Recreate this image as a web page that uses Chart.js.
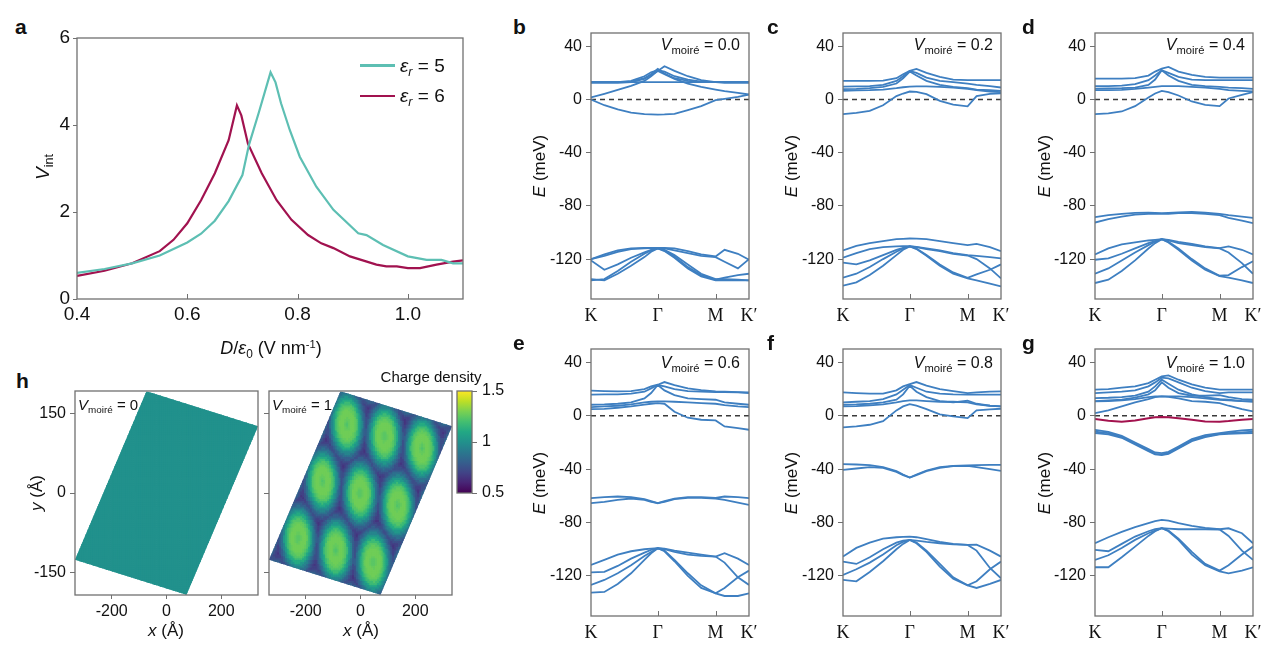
<!DOCTYPE html>
<html><head><meta charset="utf-8">
<script src="https://cdn.jsdelivr.net/npm/chart.js@4.4.1/dist/chart.umd.min.js"></script>
<style>
body{margin:0;width:1269px;height:647px;background:#fff;position:relative;overflow:hidden;font-family:"Liberation Sans",Arial,sans-serif;color:#111}
canvas{position:absolute;z-index:1}
.t{position:absolute;white-space:nowrap;line-height:1;z-index:2}
.lab{font-weight:bold;font-size:21px}
.rot{transform:translate(-50%,-50%) rotate(-90deg)}
.ctr{transform:translate(-50%,-50%)}
sub{font-size:0.66em;vertical-align:-0.32em;line-height:0}
sup{font-size:0.62em;vertical-align:0.55em;line-height:0}
.vm{font-size:16px}
.vm sub{font-size:0.7em}
.leg{position:absolute;height:2.5px;z-index:2}
</style></head>
<body>
<div class="t lab" style="left:15px;top:15.5px">a</div>
<div class="t lab" style="left:513px;top:15.5px">b</div>
<div class="t lab" style="left:767px;top:15.5px">c</div>
<div class="t lab" style="left:1022px;top:15.5px">d</div>
<div class="t lab" style="left:513px;top:332px">e</div>
<div class="t lab" style="left:767px;top:332px">f</div>
<div class="t lab" style="left:1022px;top:332px">g</div>
<div class="t lab" style="left:16px;top:370px">h</div>

<div class="t rot" style="left:42px;top:167px;font-size:19px"><i>V</i><sub>int</sub></div>
<div class="t ctr" style="left:271px;top:348px;font-size:18px"><i>D</i>/<i>ε</i><sub>0</sub> (V nm<sup>-1</sup>)</div>
<div class="leg" style="left:360px;top:64px;width:35px;background:#5dbfb3"></div>
<div class="leg" style="left:360px;top:94.5px;width:35px;background:#a1124f"></div>
<div class="t" style="left:400px;top:55.5px;font-size:19px"><i>ε<sub>r</sub></i> = 5</div>
<div class="t" style="left:400px;top:85.5px;font-size:19px"><i>ε<sub>r</sub></i> = 6</div>

<div class="t rot" style="left:539px;top:166px;font-size:17px"><i>E</i> (meV)</div>
<div class="t rot" style="left:791px;top:166px;font-size:17px"><i>E</i> (meV)</div>
<div class="t rot" style="left:1044px;top:166px;font-size:17px"><i>E</i> (meV)</div>
<div class="t rot" style="left:539px;top:483px;font-size:17px"><i>E</i> (meV)</div>
<div class="t rot" style="left:791px;top:483px;font-size:17px"><i>E</i> (meV)</div>
<div class="t rot" style="left:1044px;top:483px;font-size:17px"><i>E</i> (meV)</div>

<div class="t vm" style="right:529px;top:37px"><i>V</i><sub>moiré</sub> = 0.0</div>
<div class="t vm" style="right:276px;top:37px"><i>V</i><sub>moiré</sub> = 0.2</div>
<div class="t vm" style="right:24px;top:37px"><i>V</i><sub>moiré</sub> = 0.4</div>
<div class="t vm" style="right:529px;top:354.5px"><i>V</i><sub>moiré</sub> = 0.6</div>
<div class="t vm" style="right:276px;top:354.5px"><i>V</i><sub>moiré</sub> = 0.8</div>
<div class="t vm" style="right:24px;top:354.5px"><i>V</i><sub>moiré</sub> = 1.0</div>

<div class="t rot" style="left:36px;top:493px;font-size:17px"><i>y</i> (Å)</div>
<div class="t ctr" style="left:166px;top:630px;font-size:17px"><i>x</i> (Å)</div>
<div class="t ctr" style="left:361px;top:630px;font-size:17px"><i>x</i> (Å)</div>
<div class="t" style="left:78px;top:397px;font-size:15px"><i>V</i><sub>moiré</sub> = 0</div>
<div class="t" style="left:272px;top:397px;font-size:15px"><i>V</i><sub>moiré</sub> = 1</div>
<div class="t ctr" style="left:431px;top:376px;font-size:15px">Charge density</div>

<script>
// ---------------- DATA ----------------
// panel a
const dField5 = [0.40,0.45,0.50,0.55,0.60,0.625,0.65,0.675,0.70,0.712,0.73,0.751,0.76,0.77,0.786,0.804,0.834,0.865,0.91,0.925,0.955,1.0,1.034,1.061,1.082,1.1];
const vInt5   = [0.6,0.69,0.82,1.0,1.3,1.5,1.8,2.25,2.85,3.55,4.3,5.21,4.98,4.5,3.88,3.27,2.58,2.05,1.51,1.47,1.24,0.98,0.90,0.90,0.82,0.82];
const dField6 = [0.40,0.45,0.50,0.55,0.575,0.60,0.625,0.65,0.675,0.69,0.698,0.71,0.735,0.762,0.789,0.819,0.843,0.865,0.895,0.943,0.961,0.98,1.0,1.022,1.052,1.082,1.1];
const vInt6   = [0.53,0.65,0.82,1.1,1.36,1.74,2.27,2.89,3.65,4.45,4.22,3.57,2.89,2.27,1.82,1.47,1.28,1.17,0.98,0.79,0.75,0.75,0.71,0.71,0.79,0.86,0.89];
const aTicksX = [0.4,0.6,0.8,1.0];
const aTicksY = [0,2,4,6];

// band structures: energy (meV) along K-Γ-M-K'
const kPath = [0, 0.2, 0.4, 0.6, 0.8, 0.9, 1.0, 1.1, 1.25, 1.45, 1.65, 1.866, 2.0, 2.2, 2.366];
const kTickValues = [0, 1, 1.866, 2.366];
const kTickLabels = ['K', 'Γ', 'M', 'K\u2032'];
const eTicks = [-120, -80, -40, 0, 40];

const bandsV00 = [
 [13,13,13,13,13,13,13,13,13,13,13,13,13,13,13],
 [13,13,13,13.5,16,19,23,19.5,16,14,13.2,13,13,13,13],
 [13,13,13,14,17.5,20.5,22,21,17.5,15,13.5,13,13,13,13],
 [12.5,12.5,12.5,13,15.5,18.5,21.5,25,21.5,17.5,14.5,13,12.5,12.5,12.5],
 [1.5,4.3,7.2,10.2,14,17.5,21.5,19,15.5,12,9.5,7.5,6.3,5,3.75],
 [0,-4.3,-7.5,-9.8,-11,-11.2,-11.3,-11.2,-10.8,-8,-5,-0.5,0.5,2,3.75],
 [-120,-116.5,-113.5,-112,-111.5,-111.5,-111.5,-111.5,-112,-114,-116.5,-118,-113,-116,-120.5],
 [-120,-117.5,-114.5,-112.5,-112,-111.8,-111.7,-112,-113.5,-115.5,-117.5,-118.5,-122,-127,-120],
 [-121,-128,-124,-119,-115,-113,-112,-113,-117,-124,-131,-135,-135,-135.5,-136],
 [-135,-136,-131,-125,-118.5,-114.5,-112,-113.5,-118,-126,-132,-135.5,-134,-132,-131],
 [-136,-135,-129,-122,-116,-113.5,-112,-114,-119,-127,-133,-136,-136,-136,-136]
];
const bandsV02 = [
 [14,14,14,14.2,16,19,21.5,23,20,17,15,14.5,14.5,14.5,14.5],
 [9.75,9.8,10,11,14,17.5,21.5,20,16.5,14,13,12,11,10,9],
 [7.75,8,8.5,9.5,12,16,21,18,14,11,9.5,8.5,7.5,7,6.5],
 [6.5,6.8,7,7.5,8.5,9.2,9.7,9.8,9.8,9.5,9,8,7,6,5.5],
 [-11,-10,-8.5,-4.3,2.6,4.5,6,5.7,4,-1,-3.8,-5.2,2.5,4.2,4.7],
 [-113.5,-110,-108,-106.5,-105,-104.8,-104.5,-104.6,-105,-106.5,-108,-109.5,-108.5,-111,-114],
 [-119,-115.5,-112.5,-111,-110.5,-110.3,-110.2,-110.8,-112,-113.5,-115.5,-117,-117.5,-118.5,-119.5],
 [-122.7,-124,-121,-117,-113,-111.5,-110.5,-111,-112.5,-114,-116,-117.3,-120,-127,-134.5],
 [-134,-131,-126,-120,-114.5,-112,-110.5,-112,-117,-124,-130,-134,-131.5,-128,-124],
 [-140,-137.5,-132,-125,-117,-113,-110.5,-112.5,-117.5,-125,-131,-134.5,-136,-138.5,-140.5]
];
const bandsV04 = [
 [15.75,15.75,15.75,16,18,21,23.25,24.5,21,18.5,17,16.5,16.5,16.5,16.5],
 [10,10,10.5,11.5,14.5,18,22,20,17,15,14.5,14.5,14.5,14.5,14.5],
 [8.25,8.3,8.5,9,11,15,22,18,14,11,10,9.5,9,8.5,8],
 [7,7,7.3,8,9,9.5,10,10,10,9.5,9,8,7,6.5,6],
 [-11,-10.5,-9,-5,1.5,4.5,6.5,5.5,3,-1.5,-4,-5,0.75,3.5,5.5],
 [-88.5,-87,-86,-85.3,-85,-85.3,-85.5,-85.2,-84.8,-84.6,-85,-86,-87,-88,-89],
 [-92.5,-90,-88,-86.5,-86,-86,-86,-86,-85.5,-85.5,-86,-87,-89,-91,-93],
 [-116.5,-112,-109,-107.5,-106,-105.5,-105,-105.5,-107,-108.5,-110.5,-111.7,-110.5,-113,-116.5],
 [-120.5,-119.5,-116,-112,-108,-106.5,-105,-106,-108,-109.5,-111,-112,-115,-123,-131],
 [-131,-127,-121,-115,-109.5,-107,-105,-107,-112,-120,-127,-132.5,-132,-126,-121.7],
 [-138,-135.5,-129,-121,-112,-108,-105,-107.5,-113,-121,-128,-132.8,-134,-136,-138]
];
const bandsV06 = [
 [18.75,18.5,18.3,18.5,20,22,23.25,25.25,23,20.5,19.2,18.3,18,17.7,17.5],
 [15.75,16,16,16.5,18,20.5,23,22,20,18.5,18,17.8,17.7,17.5,17],
 [8.25,8.5,9,10,13,17,23,19,15.5,13,12.5,12,10,9,8.25],
 [6.5,7,7.5,8.5,10,10.5,10.8,10.8,10.5,10,9.5,9,8,7,6.5],
 [5,5.2,6,7,8.3,9,9.5,9,3,-1.5,-3,-3.5,-8,-9.3,-10.5],
 [-61.75,-61,-60.5,-61,-62.5,-64,-65.5,-64,-62,-61,-61,-61.5,-60.5,-61,-61.75],
 [-65.5,-64.5,-63,-62,-63,-64.5,-65.5,-64.5,-62.5,-61.5,-61.5,-62,-63,-65,-66.75],
 [-111.75,-108,-104,-101.5,-100,-99.5,-99.25,-99.5,-101,-102.5,-104,-105.5,-103,-107,-111.75],
 [-117.25,-117,-112.5,-107,-102.5,-100.5,-99.25,-100,-102,-104,-105,-105.5,-110,-121,-126.75],
 [-126.75,-123,-118,-112,-105,-102,-99.25,-101,-108,-118,-127,-133,-135,-135,-133],
 [-132.5,-132,-126,-118,-108,-103,-99.25,-101.5,-109,-120,-129,-133,-129,-121,-116]
];
const bandsV08 = [
 [17.5,17,16.5,16.5,19,22,23.75,25.25,22.5,20,18.5,17,17.5,18,18.25],
 [10,10.5,11,12.5,16,19.5,23,21,18,16.5,16,15.8,15.8,15.8,15.75],
 [8.25,8.5,9,10,12,16,22.5,18,14,11,10,11.25,9,7.5,7],
 [7,7.2,7.8,8.5,10,11,11.5,11.5,11,10.5,10.5,10,8.5,7.5,7],
 [-8.75,-8,-6.75,-4,4,7,8.75,7.5,5,1,-0.5,-1.75,4,4.8,5.25],
 [-36.25,-36.5,-37,-38.5,-41.5,-44,-46.25,-44,-41,-38.5,-37.5,-37.25,-37,-36.8,-36.75],
 [-40.5,-39.5,-38.5,-39,-42,-44.5,-46.25,-44.5,-41.5,-39,-37.8,-37.5,-38.5,-40,-41.25],
 [-105.5,-99,-95,-92,-91,-90.7,-90.5,-91,-92.5,-94.5,-96,-96.75,-96.5,-101,-105.5],
 [-109.25,-111,-106,-100,-95,-93.5,-93,-93.5,-94.5,-95.5,-96.3,-96.75,-101,-114,-121.75],
 [-119.25,-115,-110,-104,-97,-94.5,-93,-95,-101,-111,-121,-127,-124,-115,-109.25],
 [-123,-124,-117,-109,-100,-96,-93,-95.5,-102,-113,-122,-127,-129,-126,-123]
];
const bandsV10 = [
 [19.5,20,21,22,24.5,27,29.5,30.25,27,23.5,21,19.5,19.5,19.5,19.5],
 [17,17.5,18,19,22,25,28.5,28,25,21,18.5,17,17.5,17.5,17.5],
 [13.25,13.5,14,15,18,22,27,24,19.5,16,14,12.5,12,11,10.5],
 [10.75,11,11.5,12.5,14,14.5,14.5,14.5,14.5,14,13,12,11.5,11,11],
 [11,11.5,12,13.5,16,19,25,21,17,15,15,15.5,14,12.5,12],
 [2,4,7,10,12.5,14,14.5,14.2,13,11,10.5,9.5,7.5,5,3.25],
 [-10.5,-12,-15,-20,-25,-27.5,-28,-27,-23,-17.5,-14.5,-13,-12,-11,-10.5],
 [-12,-13,-16,-21,-26,-28.5,-29,-28,-24,-18.5,-15.5,-13.5,-13,-12.5,-12],
 [-13,-14,-16.5,-21.5,-26.5,-29,-29.5,-28.5,-24.5,-19,-16,-14,-13.5,-13.2,-13],
 [-95.5,-91,-87,-83.5,-80.5,-79,-78,-78.5,-80.5,-82.5,-84,-85,-84.3,-88,-95.5],
 [-100.5,-101.5,-96,-90.5,-86.5,-85,-84.25,-84.5,-85,-85,-85,-85.2,-90,-101,-108],
 [-108,-104.5,-99,-93,-88,-86,-84.25,-86,-92,-102,-111,-116,-112,-104,-98],
 [-113.5,-113.5,-106,-98,-90,-86.5,-84.25,-86.5,-93,-104,-112,-116.5,-118,-116,-113.5]
];
const flatBandV10 = [-2.5,-3.8,-4.5,-3.5,-1.8,-1.2,-1,-1.2,-1.8,-3,-4.3,-4.5,-4,-3,-2.5];

// panel h: charge density
const supercellCorners = [[-73,192],[334,126],[73,-192],[-334,-126]];
const moireA1 = [137,-22.5];
const moireA2 = [-48,130];
const profileRadius = [0,5,10,15,20,25,30,35,40,45,50,55,60,65,70,75,80,85,90];
const densityProfile = [1.22,1.24,1.26,1.28,1.28,1.28,1.26,1.23,1.18,1.11,1.03,0.95,0.87,0.80,0.74,0.69,0.65,0.63,0.62];
const uniformDensity = 1.0;
const hTicksX = [-200,0,200];
const hTicksY = [-150,0,150];
const cbarTicks = [0.5,1,1.5];

// ---------------- STYLE / HELPERS ----------------
const FRAME = '#707070', BLUE = '#3e7fc1', RED = '#a3124e';
const VIRIDIS = ['#440154','#482475','#414487','#355f8d','#2a788e','#21918c','#22a884','#44bf70','#7ad151','#bddf26','#fde725'];
const VIR_RGB = VIRIDIS.map(h => [1,3,5].map(i => parseInt(h.slice(i,i+2),16)));
function viridis(t){
  t = Math.max(0, Math.min(1, t));
  const p = t*10, i = Math.min(9, Math.floor(p)), f = p - i, a = VIR_RGB[i], b = VIR_RGB[i+1];
  return 'rgb(' + [0,1,2].map(j => Math.round(a[j] + (b[j]-a[j])*f)).join(',') + ')';
}
const cbarMin = cbarTicks[0], cbarMax = cbarTicks[cbarTicks.length-1];

Chart.defaults.font.family = '"Liberation Sans", Arial, sans-serif';
Chart.defaults.color = '#111';

const boxPlugin = {
  id: 'box',
  afterDraw(chart, args, opts){
    const a = chart.chartArea, c = chart.ctx;
    c.save();
    c.strokeStyle = FRAME; c.lineWidth = 1.3;
    c.strokeRect(a.left, a.top, a.right - a.left, a.bottom - a.top);
    if (opts && opts.inTicks) {
      c.lineWidth = 1;
      const s = chart.scales.x;
      opts.inTicks.forEach(v => {
        const x = Math.round(s.getPixelForValue(v)) + 0.5;
        c.beginPath(); c.moveTo(x, a.bottom); c.lineTo(x, a.bottom - (opts.len || 5)); c.stroke();
      });
    }
    c.restore();
  }
};
Chart.register(boxPlugin);

const polyClip = {
  id: 'polyClip',
  beforeDatasetsDraw(chart){
    const sx = chart.scales.x, sy = chart.scales.y, c = chart.ctx;
    c.save(); c.beginPath();
    supercellCorners.forEach((p,i) => {
      const px = sx.getPixelForValue(p[0]), py = sy.getPixelForValue(p[1]);
      if (i) c.lineTo(px,py); else c.moveTo(px,py);
    });
    c.closePath(); c.clip();
  },
  afterDatasetsDraw(chart){ chart.ctx.restore(); }
};

function makeChart(area, pad, cfg){
  const cv = document.createElement('canvas');
  const w = area[2]-area[0]+pad[0]+pad[2], h = area[3]-area[1]+pad[1]+pad[3];
  cv.width = w; cv.height = h;
  Object.assign(cv.style, {left:(area[0]-pad[0])+'px', top:(area[1]-pad[1])+'px', width:w+'px', height:h+'px'});
  document.body.appendChild(cv);
  cfg.options = Object.assign({responsive:false, animation:false, devicePixelRatio:1, events:[]}, cfg.options);
  return new Chart(cv, cfg);
}

function axis(o){
  return {
    type:'linear', position:o.pos, min:o.min, max:o.max,
    afterBuildTicks: s => { s.ticks = o.ticks.map(v => ({value:v})); },
    afterFit: s => {
      if (o.pos === 'bottom') s.height = o.size; else s.width = o.size;
      s.paddingLeft = s.paddingRight = s.paddingTop = s.paddingBottom = 0;
    },
    grid:{drawOnChartArea:false, drawTicks:!o.inward, tickLength:o.tickLen || 5, color:FRAME, lineWidth:1},
    border:{display:false},
    ticks:{display:o.labels !== false, autoSkip:false, maxRotation:0, minRotation:0, padding:o.padding,
           color:'#111', font:o.font, callback:o.fmt || (v => String(v))}
  };
}

function series(xs, ys){ return xs.map((x,i) => ({x, y:ys[i]})); }

// ---------------- PANEL a ----------------
makeChart([77,38,463,299],[50,14,8,32],{
  type:'scatter',
  data:{datasets:[
    {data:series(dField5, vInt5), showLine:true, borderColor:'#5dbfb3', borderWidth:2.2, pointRadius:0},
    {data:series(dField6, vInt6), showLine:true, borderColor:'#a1124f', borderWidth:2.2, pointRadius:0}
  ]},
  options:{
    layout:{padding:{left:0, top:14, right:8, bottom:0}},
    plugins:{legend:{display:false}, tooltip:{enabled:false}, box:{inTicks:[0.6,0.8,1.0], len:5}},
    scales:{
      x: axis({pos:'bottom', min:0.4, max:1.1, ticks:aTicksX, size:32, inward:true, padding:4, font:{size:19}, fmt:v => v.toFixed(1)}),
      y: axis({pos:'left', min:0, max:6, ticks:aTicksY, size:50, tickLen:4, padding:3, font:{size:19}})
    }
  }
});

// ---------------- PANELS b-g ----------------
function bandPanel(area, bands, redBand){
  const kEnd = kPath[kPath.length-1];
  const ds = [{data:[{x:0,y:0},{x:kEnd,y:0}], showLine:true, borderColor:'#3a3a3a', borderWidth:1.3, borderDash:[5,4], pointRadius:0, order:3}];
  bands.forEach(b => ds.push({data:series(kPath, b), showLine:true, borderColor:BLUE, borderWidth:1.8, pointRadius:0, order:2}));
  if (redBand) ds.push({data:series(kPath, redBand), showLine:true, borderColor:RED, borderWidth:2, pointRadius:0, order:1});
  makeChart(area,[45,12,12,30],{
    type:'scatter',
    data:{datasets:ds},
    options:{
      layout:{padding:{left:0, top:12, right:12, bottom:0}},
      plugins:{legend:{display:false}, tooltip:{enabled:false}, box:{inTicks:[kTickValues[1], kTickValues[2]], len:5}},
      scales:{
        x: axis({pos:'bottom', min:0, max:kEnd, ticks:kTickValues, size:30, inward:true, padding:6,
                 font:{family:'"Liberation Serif", "Times New Roman", serif', size:18},
                 fmt:v => kTickLabels[kTickValues.indexOf(v)]}),
        y: axis({pos:'left', min:-150, max:50, ticks:eTicks, size:45, tickLen:5, padding:4, font:{size:16}})
      }
    }
  });
}
bandPanel([591,33,749,299], bandsV00);
bandPanel([843,33,1001,299], bandsV02);
bandPanel([1095,33,1253,299], bandsV04);
bandPanel([591,349,749,616], bandsV06);
bandPanel([843,349,1001,616], bandsV08);
bandPanel([1095,349,1253,616], bandsV10, flatBandV10);

// ---------------- PANEL h ----------------
function densityAt(x, y){
  const det = moireA1[0]*moireA2[1] - moireA1[1]*moireA2[0];
  const u = (x*moireA2[1] - y*moireA2[0]) / det, v = (moireA1[0]*y - moireA1[1]*x) / det;
  let best = Infinity;
  for (let i = Math.floor(u)-1; i <= Math.floor(u)+2; i++)
    for (let j = Math.floor(v)-1; j <= Math.floor(v)+2; j++) {
      const dx = x - (i*moireA1[0] + j*moireA2[0]), dy = y - (i*moireA1[1] + j*moireA2[1]);
      best = Math.min(best, Math.hypot(dx, dy));
    }
  const step = profileRadius[1] - profileRadius[0];
  return densityProfile[Math.min(densityProfile.length-1, Math.round(best/step))];
}
function heatData(uniform){
  const pts = [], cols = [];
  for (let x = -334; x <= 334; x += 7)
    for (let y = -192.5; y <= 192.5; y += 3.6) {
      const d = uniform ? uniformDensity : densityAt(x, y);
      pts.push({x, y}); cols.push(viridis((d - cbarMin)/(cbarMax - cbarMin)));
    }
  return {pts, cols};
}
function heatPanel(area, uniform, showYLabels){
  const h = heatData(uniform);
  makeChart(area,[45,8,6,30],{
    type:'scatter',
    data:{datasets:[{data:h.pts, pointStyle:'rect', pointRadius:1.9, pointBorderWidth:0, pointBackgroundColor:h.cols}]},
    plugins:[polyClip],
    options:{
      layout:{padding:{left:0, top:8, right:6, bottom:0}},
      plugins:{legend:{display:false}, tooltip:{enabled:false}},
      scales:{
        x: axis({pos:'bottom', min:-334, max:334, ticks:hTicksX, size:30, tickLen:4, padding:3, font:{size:16}}),
        y: axis({pos:'left', min:-192.5, max:192.5, ticks:hTicksY, size:45, tickLen:5, padding:4, font:{size:16}, labels:showYLabels})
      }
    }
  });
}
heatPanel([75,391,258,595], true, true);
heatPanel([269,391,452,595], false, false);

// colorbar
makeChart([457,391,472,493],[4,10,44,6],{
  type:'bar',
  data:{labels:['cb'], datasets:[{data:[[cbarMin, cbarMax]], barPercentage:1, categoryPercentage:1, borderWidth:0,
    backgroundColor: c => {
      const a = c.chart.chartArea; if (!a) return '#21918c';
      const g = c.chart.ctx.createLinearGradient(0, a.bottom, 0, a.top);
      VIRIDIS.forEach((col,i) => g.addColorStop(i/(VIRIDIS.length-1), col));
      return g;
    }}]},
  options:{
    layout:{padding:{left:4, top:10, right:0, bottom:6}},
    plugins:{legend:{display:false}, tooltip:{enabled:false}},
    scales:{
      x:{display:false},
      y: axis({pos:'right', min:cbarMin, max:cbarMax, ticks:cbarTicks, size:44, tickLen:5, padding:5, font:{size:16}})
    }
  }
});
</script>
</body></html>
